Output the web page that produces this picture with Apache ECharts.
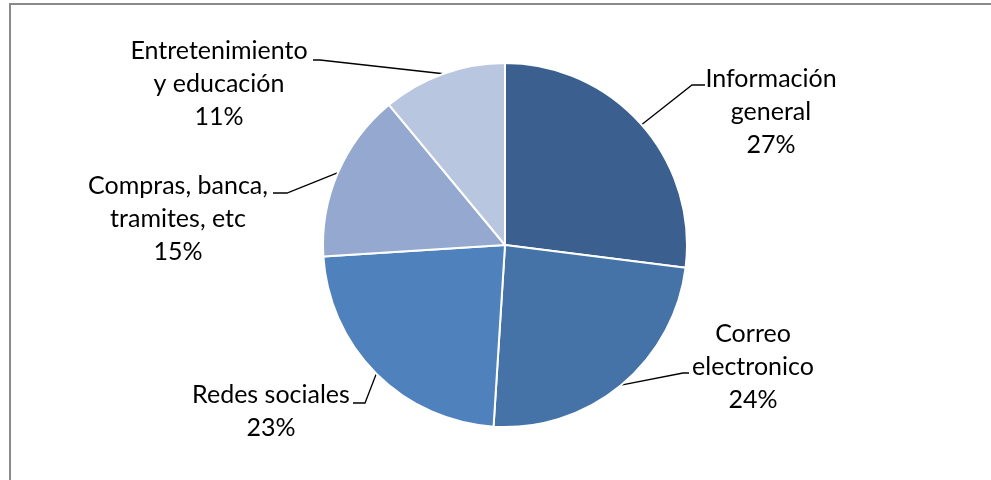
<!DOCTYPE html>
<html>
<head>
<meta charset="utf-8">
<script src="https://cdn.jsdelivr.net/npm/echarts@6/dist/echarts.min.js"></script>
<style>
  html, body { margin: 0; padding: 0; background: #ffffff; }
  #chart { width: 991px; height: 480px; }
</style>
</head>
<body>
<div id="chart"></div>
<script>
// Slices, clockwise from 12 o'clock
const categories = [
  'Información general',
  'Correo electronico',
  'Redes sociales',
  'Compras, banca, tramites, etc',
  'Entretenimiento y educación'
];
// How each category name is broken over lines in its label
const labelText = [
  ['Información', 'general'],
  ['Correo', 'electronico'],
  ['Redes sociales'],
  ['Compras, banca,', 'tramites, etc'],
  ['Entretenimiento', 'y educación']
];
const values = [27, 24, 23, 15, 11];

const sliceColors = ['#3B5F8E', '#4572A7', '#4F81BD', '#95A9D0', '#B9C6E0'];

const CENTER = [505, 245];
const RADIUS = 182;

// Label block (center x, top y) and the leader line's elbow and end points
const labelPlacement = [
  { x: 771, y: 62, elbow: [692, 85], end: [705, 85] },
  { x: 753, y: 317, elbow: [683, 373], end: [689, 373] },
  { x: 271, y: 378, elbow: [365, 403], end: [353, 403] },
  { x: 178, y: 169, elbow: [287, 193], end: [273, 193] },
  { x: 219, y: 34, elbow: [320, 60], end: [313, 60] }
];

const total = values.reduce((a, b) => a + b, 0);

// Point on the rim at the middle of a slice (fallback if the library gives none)
function rimPoint(idx) {
  let before = 0;
  for (let i = 0; i < idx; i++) before += values[i];
  const frac = (before + values[idx] / 2) / total;
  const ang = (90 - frac * 360) * Math.PI / 180;
  return [CENTER[0] + RADIUS * Math.cos(ang), CENTER[1] - RADIUS * Math.sin(ang)];
}

const chart = echarts.init(document.getElementById('chart'), null, { renderer: 'canvas' });

chart.setOption({
  animation: false,
  backgroundColor: '#ffffff',
  graphic: [{
    type: 'rect',
    shape: { x: 10, y: 4, width: 1000, height: 500 },
    style: { fill: 'none', stroke: '#8a8a8a', lineWidth: 2 },
    silent: true,
    z: 0
  }],
  series: [{
    type: 'pie',
    center: CENTER,
    radius: RADIUS,
    startAngle: 90,
    clockwise: true,
    avoidLabelOverlap: false,
    data: categories.map((name, i) => ({
      name: name,
      value: values[i],
      itemStyle: { color: sliceColors[i] }
    })),
    itemStyle: { borderColor: '#ffffff', borderWidth: 2 },
    emphasis: { disabled: true },
    label: {
      show: true,
      position: 'outside',
      formatter: p => labelText[p.dataIndex].join('\n') + '\n' + Math.round(p.percent) + '%',
      fontFamily: 'Lato',
      fontSize: 25,
      lineHeight: 33,
      color: '#000000',
      align: 'center'
    },
    labelLine: {
      show: true,
      smooth: false,
      lineStyle: { color: '#000000', width: 1.3 }
    },
    labelLayout: function (params) {
      const L = labelPlacement[params.dataIndex];
      const start = (params.labelLinePoints && params.labelLinePoints[0]) || rimPoint(params.dataIndex);
      return {
        x: L.x,
        y: L.y,
        align: 'center',
        verticalAlign: 'top',
        labelLinePoints: [start, L.elbow, L.end]
      };
    }
  }]
});
</script>
</body>
</html>
